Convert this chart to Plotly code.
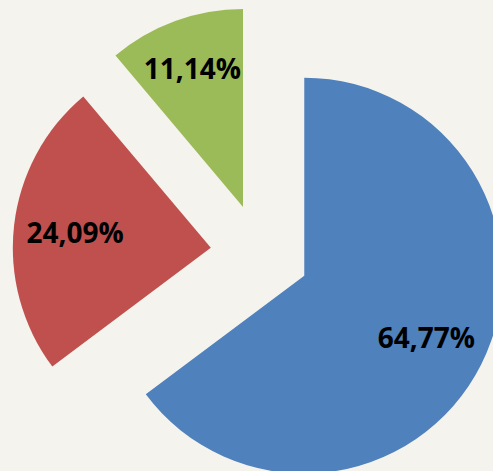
import plotly.graph_objects as go

labels = ["A", "B", "C"]
values = [64.77, 24.09, 11.14]
colors = ["#4f81bd", "#c0504d", "#9bbb59"]
pulls = [0.25, 0.25, 0.25]

common = dict(
    labels=labels,
    values=values,
    sort=False,
    direction="clockwise",
    rotation=0,
    pull=pulls,
    hoverinfo="none",
    showlegend=False,
)

# Slices
pie_slices = go.Pie(
    marker=dict(colors=colors, line=dict(width=0)),
    textinfo="none",
    **common,
)

# Transparent overlay carrying the percentage labels (hole shifts label radius outward)
pie_labels = go.Pie(
    marker=dict(colors=["rgba(0,0,0,0)"] * 3, line=dict(width=0)),
    hole=0.38,
    texttemplate="%{percent:.2%}",
    textposition="inside",
    insidetextorientation="horizontal",
    textfont=dict(family="Open Sans", size=28, color="#000000", weight="bold"),
    **common,
)

fig = go.Figure([pie_slices, pie_labels])

bg = "#f5f3ed"
fig.update_layout(
    width=508,
    height=501,
    margin=dict(l=12, r=0, t=6, b=0),
    paper_bgcolor=bg,
    plot_bgcolor=bg,
    separators=", ",
    uniformtext=dict(minsize=28, mode="show"),
)

fig.write_html(
    "out.html",
    config={"displayModeBar": False},
    post_script="document.body.style.margin='0';document.body.style.overflow='hidden';document.documentElement.style.overflow='hidden';document.body.style.background='" + bg + "';",
)
